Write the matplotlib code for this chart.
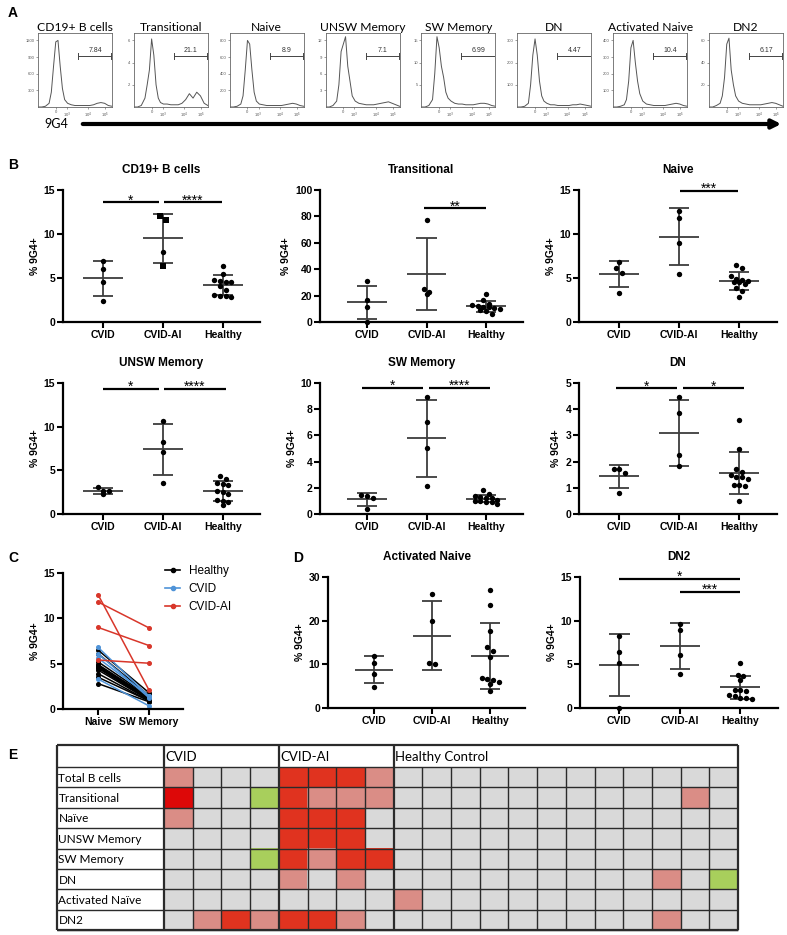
import numpy as np
import matplotlib
matplotlib.use("Agg")
import matplotlib.pyplot as plt
from matplotlib.colors import ListedColormap
from matplotlib.patches import FancyArrowPatch
from matplotlib.lines import Line2D

plt.rcParams['font.family'] = ['Liberation Sans', 'DejaVu Sans']
CAL = ['Lato', 'DejaVu Sans']

W, H = 787, 935
fig = plt.figure(figsize=(W / 100, H / 100), dpi=100)


def ax_px(x0, y0, x1, y1):
    return fig.add_axes([x0 / W, 1 - y1 / H, (x1 - x0) / W, (y1 - y0) / H])


# ---------------- Panel A data ----------------
hist_titles = ["CD19+ B cells", "Transitional", "Naive", "UNSW Memory",
               "SW Memory", "DN", "Activated Naive", "DN2"]
hist_gate = ["7.84", "21.1", "8.9", "7.1", "6.99", "4.47", "10.4", "6.17"]
hist_yticks = [[300, 600, 900, 1200], [2, 4, 6], [200, 400, 600, 800], [3, 6, 9, 12],
               [5, 10, 15], [100, 200, 300], [100, 200, 300, 400], [20, 40, 60]]
hist_x = [0.0, 0.05, 0.10, 0.15, 0.18, 0.21, 0.24, 0.27, 0.30, 0.33, 0.36, 0.40,
          0.45, 0.50, 0.55, 0.60, 0.65, 0.70, 0.75, 0.80, 0.85, 0.90, 0.95, 1.0]
hist_cd19 = [0, 0, 0.01, 0.05, 0.2, 0.55, 0.88, 0.9, 0.55, 0.25, 0.1, 0.05, 0.03, 0.02,
             0.02, 0.02, 0.02, 0.02, 0.03, 0.05, 0.06, 0.05, 0.02, 0.01]
hist_trans = [0, 0, 0.02, 0.12, 0.3, 0.5, 0.92, 0.7, 0.3, 0.12, 0.06, 0.04, 0.04, 0.03,
              0.03, 0.03, 0.05, 0.1, 0.18, 0.12, 0.2, 0.15, 0.05, 0.02]
hist_naive = [0, 0, 0.01, 0.04, 0.15, 0.5, 0.9, 0.85, 0.5, 0.2, 0.08, 0.04, 0.03, 0.02,
              0.02, 0.02, 0.02, 0.02, 0.03, 0.04, 0.05, 0.04, 0.02, 0.01]
hist_unsw = [0, 0, 0.02, 0.08, 0.3, 0.75, 0.85, 0.95, 0.55, 0.35, 0.15, 0.08, 0.05, 0.04,
             0.03, 0.03, 0.03, 0.04, 0.05, 0.06, 0.07, 0.05, 0.03, 0.01]
hist_sw = [0, 0, 0.02, 0.1, 0.45, 0.95, 0.8, 0.55, 0.4, 0.2, 0.12, 0.08, 0.05, 0.04,
           0.04, 0.03, 0.03, 0.03, 0.04, 0.05, 0.05, 0.04, 0.02, 0.01]
hist_dn = [0, 0, 0.01, 0.05, 0.3, 0.7, 0.92, 0.7, 0.35, 0.15, 0.08, 0.05, 0.03, 0.03,
           0.02, 0.02, 0.02, 0.02, 0.03, 0.03, 0.04, 0.03, 0.02, 0.01]
hist_actn = [0, 0, 0.01, 0.03, 0.1, 0.35, 0.8, 0.9, 0.6, 0.35, 0.18, 0.08, 0.04, 0.03,
             0.02, 0.02, 0.02, 0.02, 0.03, 0.04, 0.05, 0.04, 0.02, 0.01]
hist_dn2 = [0, 0, 0.02, 0.05, 0.15, 0.4, 0.85, 0.93, 0.5, 0.3, 0.15, 0.08, 0.05, 0.04,
            0.03, 0.03, 0.03, 0.03, 0.04, 0.05, 0.06, 0.05, 0.03, 0.01]
hist_curves = [hist_cd19, hist_trans, hist_naive, hist_unsw, hist_sw, hist_dn, hist_actn, hist_dn2]
hist_xtick_pos = [0.24, 0.39, 0.68, 0.91]
hist_xtick_lab = ["0", "10$^3$", "10$^4$", "10$^5$"]

# ---------------- Panel B / D data ----------------
groups = ["CVID", "CVID-AI", "Healthy"]

cd19_cvid = [6.9, 6.0, 4.5, 2.4]
cd19_ai = [11.6, 12.1, 7.9, 6.4]
cd19_ai_markers = ['s', 's', 'o', 's']
cd19_healthy = [6.4, 5.5, 4.8, 4.6, 4.5, 4.7, 4.1, 3.6, 3.0, 2.8, 3.0, 3.1]

trans_cvid = [31.0, 16.5, 11.5, 0.3]
trans_ai = [77.0, 25.0, 21.0, 23.0]
trans_healthy = [21.0, 17.0, 14.0, 13.0, 12.0, 11.5, 11.0, 10.5, 10.0, 9.0, 8.0, 6.0]

naive_cvid = [6.8, 6.1, 5.6, 3.3]
naive_ai = [12.6, 11.8, 9.0, 5.4]
naive_healthy = [6.5, 6.1, 5.2, 4.9, 4.8, 4.7, 4.6, 4.5, 4.3, 3.9, 3.5, 2.8]

unsw_cvid = [3.1, 2.6, 2.6, 2.3]
unsw_ai = [10.6, 8.3, 7.1, 3.6]
unsw_healthy = [4.4, 4.0, 3.5, 3.4, 3.3, 2.6, 2.5, 2.3, 1.6, 1.5, 1.4, 1.0]

sw_cvid = [1.4, 1.25, 1.45, 0.35]
sw_ai = [2.1, 8.95, 7.0, 5.05]
sw_healthy = [1.8, 1.5, 1.4, 1.3, 1.2, 1.2, 1.1, 1.0, 1.0, 0.9, 0.9, 0.8]

dn_cvid = [1.72, 1.72, 1.55, 0.8]
dn_ai = [4.48, 3.84, 2.25, 1.84]
dn_healthy = [3.6, 2.5, 1.7, 1.6, 1.5, 1.4, 1.4, 1.35, 1.1, 1.05, 1.1, 0.5]

actn_cvid = [11.9, 10.4, 7.7, 4.9]
actn_ai = [26.1, 19.9, 10.1, 10.3]
actn_healthy = [27.0, 23.6, 17.7, 13.9, 13.0, 11.7, 6.8, 6.3, 6.0, 6.6, 5.5, 3.9]

dn2_cvid = [8.2, 6.4, 5.2, 0.0]
dn2_ai = [9.6, 8.9, 6.1, 3.9]
dn2_healthy = [5.2, 3.8, 3.7, 3.2, 2.1, 2.1, 2.0, 1.5, 1.4, 1.2, 1.0, 1.2]

# significance: (group from, group to, level, label)
sig_cd19 = [(0.0, 0.93, 13.6, "*"), (1.02, 1.98, 13.6, "****")]
sig_trans = [(0.95, 2.0, 86, "**")]
sig_naive = [(1.02, 1.98, 14.9, "***")]
sig_unsw = [(0.0, 0.93, 14.3, "*"), (1.02, 2.05, 14.3, "****")]
sig_sw = [(-0.08, 0.94, 9.65, "*"), (1.04, 2.07, 9.65, "****")]
sig_dn = [(-0.05, 0.96, 4.8, "*"), (1.06, 2.08, 4.8, "*")]
sig_actn = []
sig_dn2 = [(0.0, 2.0, 14.8, "*"), (1.0, 2.0, 13.3, "***")]

# ---------------- Panel E data ----------------
hm_rows = ["Total B cells", "Transitional", "Naïve", "UNSW Memory", "SW Memory",
           "DN", "Activated Naïve", "DN2"]
hm_groups = ["CVID", "CVID-AI", "Healthy Control"]
hm_group_sizes = [4, 4, 12]
hm_total_b = [1, 0, 0, 0, 2, 2, 2, 1, 0, 0, 0, 0, 0, 0, 0, 0, 0, 0, 0, 0]
hm_transitional = [3, 0, 0, 4, 2, 1, 1, 1, 0, 0, 0, 0, 0, 0, 0, 0, 0, 0, 1, 0]
hm_naive = [1, 0, 0, 0, 2, 2, 2, 0, 0, 0, 0, 0, 0, 0, 0, 0, 0, 0, 0, 0]
hm_unsw = [0, 0, 0, 0, 2, 2, 2, 0, 0, 0, 0, 0, 0, 0, 0, 0, 0, 0, 0, 0]
hm_sw = [0, 0, 0, 4, 2, 1, 2, 2, 0, 0, 0, 0, 0, 0, 0, 0, 0, 0, 0, 0]
hm_dn = [0, 0, 0, 0, 1, 0, 1, 0, 0, 0, 0, 0, 0, 0, 0, 0, 0, 1, 0, 4]
hm_act_naive = [0, 0, 0, 0, 0, 0, 0, 0, 1, 0, 0, 0, 0, 0, 0, 0, 0, 0, 0, 0]
hm_dn2 = [0, 1, 2, 1, 2, 2, 1, 0, 0, 0, 0, 0, 0, 0, 0, 0, 0, 1, 0, 0]
hm_colors = ['#d9d9d9', '#da8d86', '#e0331f', '#dd0808', '#a8cf5c']

# ================= Panel A =================
hist_lefts = np.linspace(38, 709, 8)
for i in range(8):
    ax = ax_px(hist_lefts[i], 33, hist_lefts[i] + 74, 107)
    top = hist_yticks[i][-1] / 0.9
    ax.plot(hist_x, np.array(hist_curves[i]) * top, color='#555555', lw=0.7)
    ax.set_xlim(0, 1)
    ax.set_ylim(0, top)
    ax.set_yticks(hist_yticks[i])
    ax.set_yticklabels([str(v) for v in hist_yticks[i]])
    ax.set_xticks(hist_xtick_pos)
    ax.set_xticklabels(hist_xtick_lab)
    ax.tick_params(labelsize=3, length=1.5, width=0.4, pad=1, colors='#555555')
    for sp in ax.spines.values():
        sp.set_linewidth(0.6)
        sp.set_color('#666666')
    ax.set_title(hist_titles[i], fontsize=8.7, family=CAL, pad=1.5)
    ax.plot([0.54, 0.99], [0.69, 0.69], transform=ax.transAxes, color='#444444', lw=0.7)
    for xe in (0.54, 0.99):
        ax.plot([xe, xe], [0.65, 0.73], transform=ax.transAxes, color='#444444', lw=0.7)
    ax.text(0.77, 0.72, hist_gate[i], transform=ax.transAxes, fontsize=5,
            ha='center', va='bottom', color='#333333')

fig.add_artist(FancyArrowPatch((80 / W, 1 - 124 / H), (784 / W, 1 - 124 / H),
                               transform=fig.transFigure, arrowstyle='-|>',
                               mutation_scale=13, lw=3, color='black'))
fig.text(56 / W, 1 - 124 / H, "9G4", family=CAL, fontsize=9, ha='center', va='center')

# ================= Panel B / D =================
EB = '#3d3d3d'


def swarm(vals, ppy, ppx, d=5.6):
    vals = np.asarray(vals, float)
    order = np.argsort(-vals, kind='stable')
    offs = np.zeros(len(vals))
    rows = []
    cur = [order[0]]
    for idx in order[1:]:
        if abs(vals[cur[0]] - vals[idx]) * ppy < d * 0.85:
            cur.append(idx)
        else:
            rows.append(cur)
            cur = [idx]
    rows.append(cur)
    for r in rows:
        n = len(r)
        for k, idx in enumerate(r):
            offs[idx] = (k - (n - 1) / 2) * d / ppx
    return offs


def style_axes(ax):
    for s in ('top', 'right'):
        ax.spines[s].set_visible(False)
    for s in ('left', 'bottom'):
        ax.spines[s].set_linewidth(1.6)
    ax.tick_params(axis='both', direction='out', length=4, width=1.5, labelsize=7.5, pad=1.5)
    for lbl in ax.get_xticklabels() + ax.get_yticklabels():
        lbl.set_fontweight('bold')


def dot_panel(rect, title, series, ylim, yticks, xlim, sigs, markers=None):
    ax = ax_px(*rect)
    ax.set_xlim(*xlim)
    ax.set_ylim(*ylim)
    x0, y0, x1, y1 = rect
    ppx = (x1 - x0) / (xlim[1] - xlim[0])
    ppy = (y1 - y0) / (ylim[1] - ylim[0])
    for gi, vals in enumerate(series):
        vals = np.asarray(vals, float)
        m = vals.mean()
        sd = vals.std(ddof=1)
        kw = dict(color=EB, lw=1.3, zorder=2, solid_capstyle='butt', clip_on=False)
        ax.plot([gi - 0.33, gi + 0.33], [m, m], **kw)
        ax.plot([gi, gi], [max(m - sd, ylim[0]), m + sd], **kw)
        for yv in (m - sd, m + sd):
            if yv >= ylim[0]:
                ax.plot([gi - 0.17, gi + 0.17], [yv, yv], **kw)
        offs = swarm(vals, ppy, ppx)
        mks = markers[gi] if (markers is not None and markers[gi] is not None) else ['o'] * len(vals)
        for v, o, mk in zip(vals, offs, mks):
            ax.scatter(gi + o, v, marker=mk, s=15 if mk == 'o' else 17, color='black',
                       zorder=3, clip_on=False, linewidths=0)
    for (a, b, lev, lab) in sigs:
        ax.plot([a, b], [lev, lev], color='black', lw=1.6, clip_on=False, solid_capstyle='butt')
        ax.annotate(lab, xy=((a + b) / 2, lev), xytext=(0, -1.5), textcoords='offset points',
                    ha='center', va='baseline', fontsize=10, annotation_clip=False)
    ax.set_xticks(range(len(groups)))
    ax.set_xticklabels(groups)
    ax.set_yticks(yticks)
    style_axes(ax)
    ax.set_ylabel('% 9G4+', fontsize=7.5, fontweight='bold', labelpad=3)
    ax.set_title(title, fontsize=8.5, fontweight='bold', pad=12)
    return ax


col_x = [(63, 260), (320, 523), (579, 777)]
col_xlim = [(-0.67, 2.62), (-0.79, 2.62), (-0.67, 2.63)]
row1 = (190, 322)
row2 = (383, 514)
row3 = (577, 708)

dot_panel((col_x[0][0], row1[0], col_x[0][1], row1[1]), "CD19+ B cells",
          [cd19_cvid, cd19_ai, cd19_healthy], (0, 15), [0, 5, 10, 15], col_xlim[0], sig_cd19,
          markers=[None, cd19_ai_markers, None])
dot_panel((col_x[1][0], row1[0], col_x[1][1], row1[1]), "Transitional",
          [trans_cvid, trans_ai, trans_healthy], (0, 100), [0, 20, 40, 60, 80, 100], col_xlim[1], sig_trans)
dot_panel((col_x[2][0], row1[0], col_x[2][1], row1[1]), "Naive",
          [naive_cvid, naive_ai, naive_healthy], (0, 15), [0, 5, 10, 15], col_xlim[2], sig_naive)
dot_panel((col_x[0][0], row2[0], col_x[0][1], row2[1]), "UNSW Memory",
          [unsw_cvid, unsw_ai, unsw_healthy], (0, 15), [0, 5, 10, 15], col_xlim[0], sig_unsw)
dot_panel((col_x[1][0], row2[0], col_x[1][1], row2[1]), "SW Memory",
          [sw_cvid, sw_ai, sw_healthy], (0, 10), [0, 2, 4, 6, 8, 10], col_xlim[1], sig_sw)
dot_panel((col_x[2][0], row2[0], col_x[2][1], row2[1]), "DN",
          [dn_cvid, dn_ai, dn_healthy], (0, 5), [0, 1, 2, 3, 4, 5], col_xlim[2], sig_dn)
dot_panel((328, row3[0], 525, row3[1]), "Activated Naive",
          [actn_cvid, actn_ai, actn_healthy], (0, 30), [0, 10, 20, 30], (-0.79, 2.6), sig_actn)
dot_panel((580, row3[0], 778, row3[1]), "DN2",
          [dn2_cvid, dn2_ai, dn2_healthy], (0, 15), [0, 5, 10, 15], (-0.65, 2.62), sig_dn2)

# ================= Panel C =================
c_labels = ["Naive", "SW Memory"]
c_series = [("Healthy", '#000000', naive_healthy, sw_healthy),
            ("CVID", '#4f93d8', naive_cvid, sw_cvid),
            ("CVID-AI", '#d8362a', naive_ai, sw_ai)]
axc = ax_px(63, 573, 183, 709)
axc.set_xlim(-0.69, 1.67)
axc.set_ylim(0, 15)
for name, col, a_vals, b_vals in c_series:
    for a, b in zip(a_vals, b_vals):
        axc.plot([0, 1], [a, b], color=col, lw=1.1, marker='o', ms=2.6, clip_on=False)
axc.set_xticks([0, 1])
axc.set_xticklabels(c_labels)
axc.set_yticks([0, 5, 10, 15])
style_axes(axc)
axc.set_ylabel('% 9G4+', fontsize=7.5, fontweight='bold', labelpad=3)
handles = [Line2D([0], [0], color=col, lw=1.2, marker='o', ms=3) for _, col, _, _ in c_series]
axc.legend(handles, [s[0] for s in c_series], loc='upper left', bbox_to_anchor=(0.85, 1.06),
           frameon=False, fontsize=8.5, handlelength=1.3, handletextpad=0.7,
           labelspacing=0.5, borderaxespad=0, borderpad=0)

# ================= Panel E =================
hm_data = np.array([hm_total_b, hm_transitional, hm_naive, hm_unsw, hm_sw,
                    hm_dn, hm_act_naive, hm_dn2])
nrow, ncol = hm_data.shape
cell_w = (738 - 164) / ncol
row_h = (930 - 767) / nrow
LW = (164 - 57) / cell_w
HH = (767 - 745) / row_h
axh = ax_px(57, 745, 738, 930)
axh.imshow(hm_data, cmap=ListedColormap(hm_colors), vmin=-0.5, vmax=len(hm_colors) - 0.5,
           extent=(0, ncol, nrow, 0), aspect='auto', interpolation='nearest')
axh.set_xlim(-LW, ncol)
axh.set_ylim(nrow, -HH)
axh.axis('off')
lk = dict(color='#2b2b2b', clip_on=False, solid_capstyle='butt')
for r in range(nrow + 1):
    axh.plot([-LW, ncol], [r, r], lw=1.0, **lk)
bounds = np.cumsum([0] + hm_group_sizes)
for c in range(1, ncol):
    if c not in bounds:
        axh.plot([c, c], [0, nrow], lw=1.0, **lk)
for c in bounds:
    axh.plot([c, c], [-HH, nrow], lw=1.6, **lk)
axh.plot([-LW, -LW], [-HH, nrow], lw=1.6, **lk)
axh.plot([-LW, ncol], [-HH, -HH], lw=1.6, **lk)
axh.plot([-LW, ncol], [nrow, nrow], lw=1.6, **lk)
for g, start in zip(hm_groups, bounds[:-1]):
    axh.text(start + 0.05, -HH / 2 + 0.05, g, family=CAL, fontsize=9.5, ha='left', va='center')
for r, lab in enumerate(hm_rows):
    axh.text(-LW + 0.05, r + 0.55, lab, family=CAL, fontsize=8.5, ha='left', va='center')

# ================= Panel letters =================
for lt, x, y in [("A", 8, 13), ("B", 8, 165), ("C", 8, 558), ("D", 293, 558), ("E", 8, 755)]:
    fig.text(x / W, 1 - y / H, lt, fontsize=10, fontweight='bold', ha='left', va='center')

fig.savefig("out.png", dpi=100)
